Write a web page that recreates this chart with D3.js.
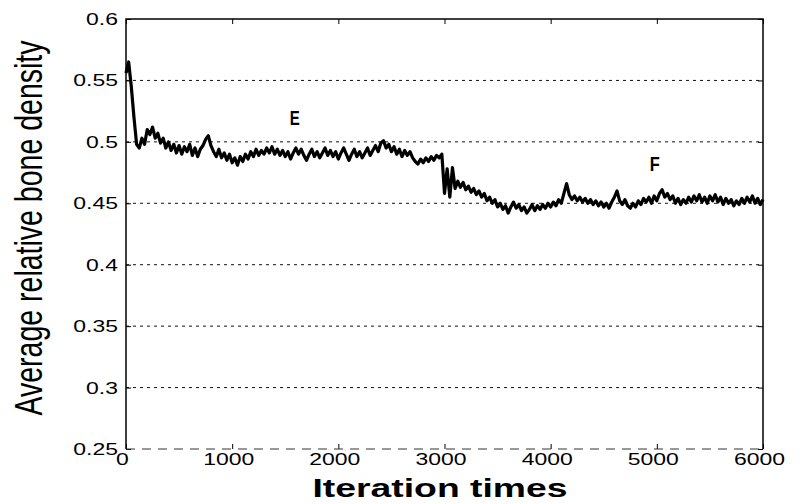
<!DOCTYPE html>
<html>
<head>
<meta charset="utf-8">
<script src="https://cdn.jsdelivr.net/npm/d3@7"></script>
<style>
  body { margin: 0; background: #fff; }
  svg { display: block; font-family: "Liberation Sans", Arial, sans-serif; }
</style>
</head>
<body>
<div id="chart"></div>
<script>
const MARGIN = { LEFT: 126, RIGHT: 39, TOP: 19, BOTTOM: 55 };
const WIDTH = 802 - MARGIN.LEFT - MARGIN.RIGHT;
const HEIGHT = 504 - MARGIN.TOP - MARGIN.BOTTOM;

// average relative bone density, sampled every 25 iterations (0 .. 6000)
const ITER_STEP = 25;
const density = [
  0.556, 0.565, 0.545, 0.520, 0.498, 0.495, 0.503, 0.498, 0.510, 0.506,
  0.512, 0.503, 0.507, 0.499, 0.503, 0.495, 0.500, 0.493, 0.498, 0.491,
  0.497, 0.490, 0.496, 0.492, 0.498, 0.489, 0.495, 0.488, 0.494, 0.497,
  0.502, 0.505, 0.497, 0.492, 0.488, 0.494, 0.487, 0.491, 0.485, 0.490,
  0.483, 0.487, 0.481, 0.488, 0.484, 0.490, 0.486, 0.492, 0.488, 0.494,
  0.489, 0.493, 0.490, 0.495, 0.491, 0.496, 0.490, 0.494, 0.489, 0.493,
  0.488, 0.492, 0.486, 0.491, 0.495, 0.490, 0.494, 0.489, 0.485, 0.490,
  0.494, 0.488, 0.492, 0.487, 0.491, 0.495, 0.489, 0.493, 0.488, 0.492,
  0.486, 0.491, 0.495, 0.490, 0.485, 0.490, 0.494, 0.488, 0.492, 0.487,
  0.491, 0.495, 0.489, 0.493, 0.497, 0.492, 0.499, 0.501, 0.495, 0.498,
  0.492, 0.496, 0.490, 0.494, 0.488, 0.493, 0.489, 0.492, 0.487, 0.484,
  0.482, 0.486, 0.483, 0.487, 0.484, 0.488, 0.485, 0.489, 0.487, 0.490,
  0.458, 0.478, 0.455, 0.479, 0.462, 0.468, 0.463, 0.467, 0.461, 0.464,
  0.459, 0.462, 0.457, 0.460, 0.455, 0.458, 0.452, 0.455, 0.450, 0.453,
  0.447, 0.450, 0.445, 0.448, 0.442, 0.447, 0.451, 0.446, 0.449, 0.444,
  0.447, 0.442, 0.445, 0.449, 0.444, 0.448, 0.445, 0.449, 0.446, 0.450,
  0.447, 0.451, 0.448, 0.453, 0.450, 0.458, 0.466, 0.457, 0.453, 0.456,
  0.452, 0.455, 0.451, 0.454, 0.450, 0.453, 0.449, 0.452, 0.448, 0.451,
  0.447, 0.450, 0.446, 0.451, 0.455, 0.460, 0.452, 0.449, 0.453, 0.448,
  0.446, 0.450, 0.447, 0.452, 0.449, 0.454, 0.451, 0.455, 0.450, 0.456,
  0.452, 0.458, 0.461, 0.455, 0.458, 0.453, 0.456, 0.450, 0.454, 0.449,
  0.453, 0.450, 0.455, 0.451, 0.456, 0.452, 0.457, 0.451, 0.455, 0.450,
  0.456, 0.452, 0.457, 0.451, 0.455, 0.449, 0.454, 0.450, 0.453, 0.448,
  0.452, 0.449, 0.454, 0.450, 0.455, 0.451, 0.456, 0.450, 0.454, 0.449,
  0.453
];

const xTicks = [0, 1000, 2000, 3000, 4000, 5000, 6000];
const yTicks = [0.25, 0.3, 0.35, 0.4, 0.45, 0.5, 0.55, 0.6];
const gridValues = [0.3, 0.35, 0.4, 0.45, 0.5, 0.55];
const notes = [
  { label: "E", iter: 1590, value: 0.514 },
  { label: "F", iter: 4980, value: 0.476 },
];

// the scanned figure is stretched sideways, so text is widened to match
const STRETCH = 1.35;

const svg = d3
  .select("#chart")
  .append("svg")
  .attr("width", 802)
  .attr("height", 504);

const g = svg
  .append("g")
  .attr("transform", `translate(${MARGIN.LEFT}, ${MARGIN.TOP})`);

const x = d3.scaleLinear().domain([0, 6000]).range([0, WIDTH]);
const y = d3.scaleLinear().domain([0.25, 0.6]).range([HEIGHT, 0]);

// dotted grid
g.selectAll(".grid")
  .data(gridValues)
  .enter()
  .append("line")
  .attr("class", "grid")
  .attr("x1", 0)
  .attr("x2", WIDTH)
  .attr("y1", (d) => y(d))
  .attr("y2", (d) => y(d))
  .attr("stroke", "#111")
  .attr("stroke-width", 1)
  .attr("stroke-dasharray", "3,4");

function widen(sel) {
  sel.each(function () {
    const len = this.getComputedTextLength();
    d3.select(this)
      .attr("textLength", len * STRETCH)
      .attr("lengthAdjust", "spacingAndGlyphs");
  });
}

// axes, ticks pointing inward
const xAxisGroup = g
  .append("g")
  .attr("transform", `translate(0, ${HEIGHT})`)
  .call(d3.axisBottom(x).tickValues(xTicks).tickSize(-5).tickPadding(4).tickFormat(d3.format("d")));
xAxisGroup.select(".domain").remove();
xAxisGroup
  .selectAll("text")
  .attr("font-size", "17px")
  .attr("font-family", "Liberation Sans, Arial, sans-serif")
  .attr("fill", "#000")
  .attr("dx", "-4")
  .call(widen);

const yAxisGroup = g
  .append("g")
  .call(d3.axisLeft(y).tickValues(yTicks).tickSize(-5).tickPadding(8).tickFormat((d) => d));
yAxisGroup.select(".domain").remove();
yAxisGroup
  .selectAll("text")
  .attr("font-size", "17px")
  .attr("font-family", "Liberation Sans, Arial, sans-serif")
  .attr("fill", "#000")
  .call(widen);

const topAxis = g
  .append("g")
  .call(d3.axisTop(x).tickValues(xTicks).tickSize(-5).tickFormat(""));
topAxis.select(".domain").remove();

const rightAxis = g
  .append("g")
  .attr("transform", `translate(${WIDTH}, 0)`)
  .call(d3.axisRight(y).tickValues(yTicks).tickSize(-5).tickFormat(""));
rightAxis.select(".domain").remove();

// frame (bottom edge is broken up in the scan)
g.append("path")
  .attr("d", `M0,${HEIGHT}V0H${WIDTH}V${HEIGHT}`)
  .attr("fill", "none")
  .attr("stroke", "#000")
  .attr("stroke-width", 1.5);
g.append("line")
  .attr("x1", 0)
  .attr("x2", WIDTH)
  .attr("y1", HEIGHT)
  .attr("y2", HEIGHT)
  .attr("stroke", "#333")
  .attr("stroke-width", 1)
  .attr("stroke-dasharray", "9,7");

// density curve
const line = d3
  .line()
  .x((d, i) => x(i * ITER_STEP))
  .y((d) => y(d));

g.append("path")
  .datum(density)
  .attr("d", line)
  .attr("fill", "none")
  .attr("stroke", "#000")
  .attr("stroke-width", 3.2)
  .attr("stroke-linejoin", "round");

// E / F markers
g.selectAll(".note")
  .data(notes)
  .enter()
  .append("text")
  .attr("class", "note")
  .attr("x", (d) => x(d.iter))
  .attr("y", (d) => y(d.value))
  .attr("text-anchor", "middle")
  .attr("font-size", "20px")
  .attr("font-weight", "bold")
  .attr("textLength", 10)
  .attr("lengthAdjust", "spacingAndGlyphs")
  .text((d) => d.label);

// X label
svg.append("text")
  .attr("x", 440)
  .attr("y", 497)
  .attr("font-size", "26px")
  .attr("font-weight", "bold")
  .attr("text-anchor", "middle")
  .attr("textLength", 255)
  .attr("lengthAdjust", "spacingAndGlyphs")
  .text("Iteration times");

// Y label
svg.append("text")
  .attr("transform", "translate(42, 228) rotate(-90) scale(1, 1.4)")
  .attr("font-size", "28px")
  .attr("text-anchor", "middle")
  .attr("textLength", 375)
  .attr("lengthAdjust", "spacingAndGlyphs")
  .text("Average relative bone density");
</script>
</body>
</html>
